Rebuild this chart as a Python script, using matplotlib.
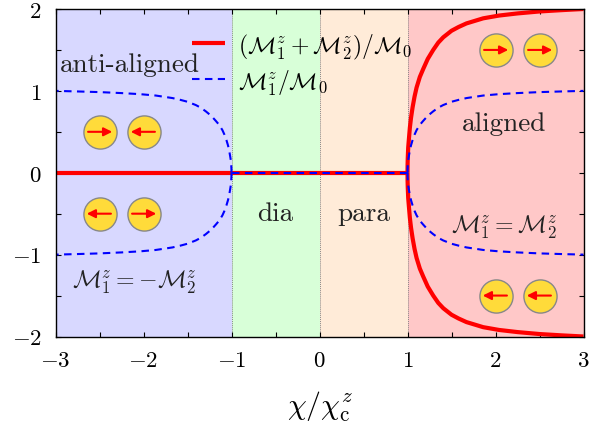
import matplotlib
matplotlib.use("Agg")
import matplotlib.pyplot as plt

plt.rcParams["mathtext.fontset"] = "cm"
plt.rcParams["font.family"] = ["cmr10", "DejaVu Sans"]
plt.rcParams["axes.formatter.use_mathtext"] = True

# upper branch above chi = 1
branch_x = [1.0, 1.001, 1.003, 1.008, 1.015, 1.027, 1.04, 1.058, 1.08, 1.103, 1.14, 1.178, 1.23, 1.292, 1.35, 1.406, 1.5, 1.58, 1.67, 1.86, 2.04, 2.25, 2.5, 2.75, 3.0]
branch_y = [0.0, 0.05, 0.09, 0.154, 0.2, 0.276, 0.335, 0.40, 0.465, 0.52, 0.585, 0.633, 0.695, 0.75, 0.795, 0.827, 0.867, 0.89, 0.912, 0.943, 0.96, 0.973, 0.985, 0.993, 1.0]
middle_x = [-1.0, 1.0]
middle_y = [0.0, 0.0]
zero_x = [-3.0, 1.0]
zero_y = [0.0, 0.0]

region_edges = [-3, -1, 0, 1, 3]
region_colors = ["#d8d8ff", "#d8ffd8", "#ffebd8", "#ffc8c8"]

# circle positions and arrow direction (+1 right, -1 left)
spin_x = [-2.5, -2.0, -2.5, -2.0, 2.0, 2.5, 2.0, 2.5]
spin_y = [0.5, 0.5, -0.5, -0.5, 1.5, 1.5, -1.5, -1.5]
spin_dir = [1, -1, -1, 1, 1, 1, -1, -1]

x_ticks = [-3, -2, -1, 0, 1, 2, 3]
x_labels = ["$-3$", "$-2$", "$-1$", "$0$", "$1$", "$2$", "$3$"]
y_ticks = [-2, -1, 0, 1, 2]
y_labels = ["$-2$", "$-1$", "$0$", "$1$", "$2$"]

fig = plt.figure(figsize=(5.89, 4.31), dpi=100)
ax = fig.add_axes([55.5 / 589, 1 - 337.5 / 431, 528 / 589, 327.5 / 431])

for i, color in enumerate(region_colors):
    ax.axvspan(region_edges[i], region_edges[i + 1], color=color, lw=0, zorder=0)
for edge in region_edges[1:-1]:
    ax.axvline(edge, color="#888888", lw=0.7, ls=(0, (1, 1)), zorder=1)

# curves
red = dict(color="#ff0000", lw=3.0, zorder=3, solid_capstyle="butt")
blue = dict(color="#0000ff", lw=1.5, ls=(0, (3.6, 2.6)), zorder=4)
ax.plot(zero_x, zero_y, **red)
ax.plot(branch_x, [2 * v for v in branch_y], label=r"$(\mathcal{M}_1^z+\mathcal{M}_2^z)/\mathcal{M}_0$", **red)
ax.plot(branch_x, [-2 * v for v in branch_y], **red)
ax.plot(branch_x, branch_y, label=r"$\mathcal{M}_1^z/\mathcal{M}_0$", **blue)
ax.plot(branch_x, [-v for v in branch_y], **blue)
ax.plot([-v for v in branch_x], branch_y, **blue)
ax.plot([-v for v in branch_x], [-v for v in branch_y], **blue)
ax.plot(middle_x, middle_y, **blue)

# spins
ax.scatter(spin_x, spin_y, s=570, facecolor="#ffdb3a", edgecolor="#888888", lw=1.0, zorder=5)
for x, y, d in zip(spin_x, spin_y, spin_dir):
    ax.annotate("", xy=(x + d * 0.145, y), xytext=(x - d * 0.13, y), zorder=6,
                arrowprops=dict(arrowstyle="-|>,head_length=0.5,head_width=0.25", color="#ff0000", lw=1.5, shrinkA=0, shrinkB=0))

# labels inside the plot
tick_size = 16.5
text_size = 19.6
math_size = 17.2
ink = "#222222"
ax.text(-2.15, 1.33, "anti-aligned", fontsize=text_size, ha="center", va="center", color=ink)
ax.text(2.1, 0.6, "aligned", fontsize=text_size, ha="center", va="center", color=ink)
ax.text(-0.5, -0.49, "dia", fontsize=text_size, ha="center", va="center", color=ink)
ax.text(0.5, -0.49, "para", fontsize=text_size, ha="center", va="center", color=ink)
ax.text(-2.1, -1.33, r"$\mathcal{M}_1^z=-\mathcal{M}_2^z$", fontsize=math_size, ha="center", va="center", color=ink)
ax.text(2.1, -0.65, r"$\mathcal{M}_1^z=\mathcal{M}_2^z$", fontsize=math_size, ha="center", va="center", color=ink)

ax.set_xlim(-3, 3)
ax.set_ylim(-2, 2)
ax.set_xticks(x_ticks)
ax.set_xticklabels(x_labels, fontsize=tick_size)
ax.set_yticks(y_ticks)
ax.set_yticklabels(y_labels, fontsize=tick_size)
ax.set_xticks([-2.5, -1.5, -0.5, 0.5, 1.5, 2.5], minor=True)
ax.set_yticks([-1.5, -0.5, 0.5, 1.5], minor=True)
ax.tick_params(which="both", direction="in", top=True, right=True, length=3.7, width=0.8, zorder=7)
ax.tick_params(which="major", pad=10)
ax.set_xlabel(r"$\chi/\chi_{\mathrm{c}}^z$", fontsize=21.5, labelpad=13)
for spine in ax.spines.values():
    spine.set_linewidth(1.0)
    spine.set_zorder(8)

leg = ax.legend(loc="upper left", bbox_to_anchor=(0.237, 0.965), frameon=False, fontsize=17,
                handlelength=1.4, handleheight=1.2, handletextpad=0.52, labelspacing=0.3, borderpad=0)
leg.set_zorder(9)

fig.savefig("out.png", dpi=100)
